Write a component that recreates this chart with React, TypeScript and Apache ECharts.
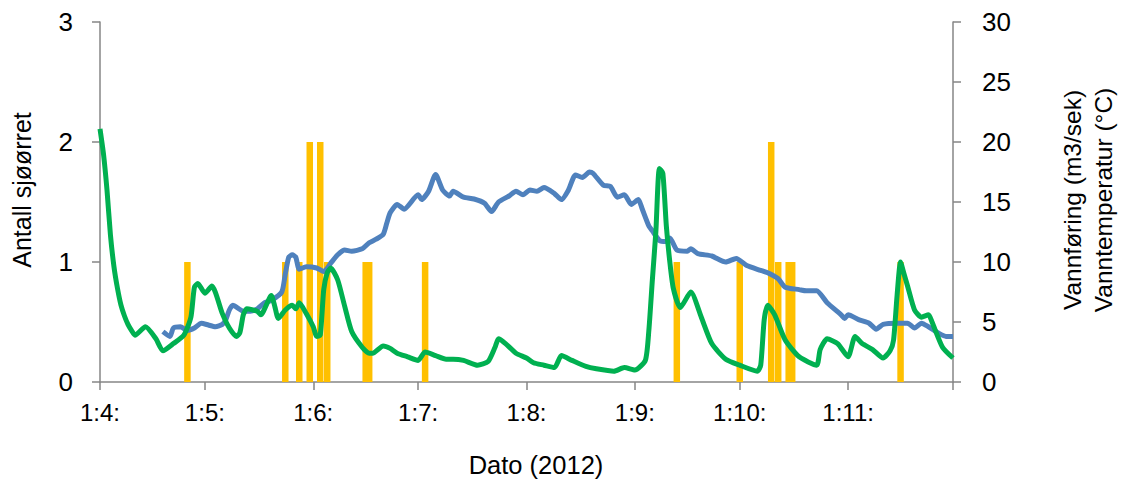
import React, { useEffect, useRef } from 'react';
import * as echarts from 'echarts';

// Daily categories from 1 April 2012 to 1 December 2012 (label format "d:m:")
const DAY_COUNT = 245;
const dayLabels: string[] = Array.from({ length: DAY_COUNT }, (_, i) => {
  const d = new Date(2012, 3, 1 + i);
  return `${d.getDate()}:${d.getMonth() + 1}:`;
});

// Antall sjøørret (left axis) — [day index, count]
const fishCounts: [number, number][] = [
  [25, 1], [53, 1], [57, 1], [60, 2], [63, 2], [65, 1], [76, 1], [77, 1],
  [93, 1], [165, 1], [183, 1], [192, 2], [194, 1], [197, 1], [198, 1], [229, 1],
];

// Vannføring (m3/sek) (right axis) — [day index, value]
const flow: [number, number][] = [
  [0, 21.1], [1, 19.0], [2, 16.0], [3, 12.2], [4, 9.6], [5, 7.8], [6, 6.4], [7, 5.5],
  [8, 4.8], [9, 4.3], [10, 3.9], [13, 4.6], [16, 3.6],
  [18, 2.6], [21, 3.2], [24, 3.9], [26, 5.4], [27, 7.9], [28, 8.2], [30, 7.4], [32, 8.0],
  [35, 5.7], [37, 4.5], [39, 3.8], [40, 4.1], [41, 5.6], [42, 6.1], [45, 5.9], [46, 5.6],
  [49, 7.2], [50, 6.3], [51, 5.3], [53, 6.0], [55, 6.4], [56, 6.1], [57, 6.6], [59, 5.7],
  [61, 4.6], [62, 3.8], [63, 3.9], [64, 7.7], [65, 9.1], [66, 9.5], [68, 8.5], [70, 6.3],
  [72, 4.2], [75, 2.9], [77, 2.4], [78, 2.4], [81, 3.0], [83, 2.8], [85, 2.4], [88, 2.1],
  [91, 1.8], [93, 2.5], [96, 2.2], [99, 1.9], [101, 1.9], [104, 1.8], [108, 1.4], [111, 1.7],
  [113, 2.9], [114, 3.6], [116, 3.2], [119, 2.4], [122, 2.0], [124, 1.6], [127, 1.4], [130, 1.2],
  [132, 2.2], [135, 1.8], [139, 1.3], [142, 1.1], [147, 0.9], [150, 1.2], [153, 1.0], [156, 1.8],
  [157, 4.3], [158, 8.5], [159, 12.5], [160, 17.8], [161, 17.4], [162, 13.0], [163, 10.0], [164, 7.8],
  [166, 6.2], [169, 7.5], [172, 5.4], [175, 3.2], [179, 1.9], [183, 1.4], [188, 0.9], [189, 1.4],
  [190, 5.2], [191, 6.4], [193, 5.6], [196, 3.5], [200, 2.1], [205, 1.4], [206, 2.7], [208, 3.6],
  [211, 3.2], [214, 2.1], [216, 3.8], [218, 3.2], [221, 2.7], [224, 2.0], [226, 2.6], [227, 3.5],
  [228, 7.2], [229, 10.0], [230, 9.0], [231, 8.0], [233, 6.0], [235, 5.4], [237, 5.6], [238, 5.0],
  [241, 2.9], [244, 2.0],
];

// Vanntemperatur (°C) (right axis) — [day index, value]
const temperature: [number, number][] = [
  [18, 4.2], [20, 3.8], [21, 4.5], [23, 4.6], [25, 4.3], [27, 4.5], [29, 4.9], [31, 4.75],
  [33, 4.6], [35, 4.8], [36, 5.2], [37, 6.0], [38, 6.4], [41, 5.9], [43, 5.9], [45, 6.1],
  [47, 6.6], [49, 6.8], [52, 7.5], [53, 9.0], [54, 10.4], [55, 10.6], [56, 10.4], [57, 9.4],
  [59, 9.6], [62, 9.5], [64, 9.2], [66, 9.9], [68, 10.6], [70, 11.0], [72, 10.9], [75, 11.1],
  [77, 11.6], [79, 11.9], [81, 12.3], [82, 13.2], [83, 14.1], [85, 14.8], [87, 14.4], [91, 15.6],
  [92, 15.2], [94, 15.9], [96, 17.3], [98, 16.0], [100, 15.5], [101, 15.9], [104, 15.4], [107, 15.25],
  [110, 14.9], [112, 14.2], [114, 15.0], [117, 15.5], [119, 15.9], [121, 15.6], [123, 16.0], [125, 15.9],
  [127, 16.2], [130, 15.7], [132, 15.2], [134, 16.0], [136, 17.25], [138, 17.05], [140, 17.5], [141, 17.4],
  [144, 16.4], [146, 16.3], [148, 15.4], [150, 15.6], [152, 14.8], [154, 15.2], [155, 14.5], [157, 13.0],
  [158, 12.6], [160, 11.8], [162, 11.7], [163, 12.0], [165, 11.0], [168, 10.9], [169, 11.1], [171, 10.7],
  [175, 10.5], [179, 10.0], [182, 10.3], [185, 9.7], [189, 9.3], [191, 9.1], [194, 8.6], [196, 7.9],
  [200, 7.7], [202, 7.6], [205, 7.6], [208, 6.6], [212, 5.6], [213, 5.3], [214, 5.6], [217, 5.2],
  [220, 4.9], [222, 4.4], [224, 4.8], [228, 4.9], [231, 4.9], [233, 4.5], [235, 4.9], [237, 4.6],
  [240, 4.05], [242, 3.8], [244, 3.8],
];

const leftTicks = { min: 0, max: 3, interval: 1 };
const rightTicks = { min: 0, max: 30, interval: 5 };

const FONT = '"Liberation Sans", Arial, sans-serif';
const AXIS_COLOR = '#868686';

export default function App() {
  const ref = useRef<HTMLDivElement>(null);

  useEffect(() => {
    document.body.style.margin = '0';
    if (!ref.current) return;
    const chart = echarts.init(ref.current, undefined, { renderer: 'svg' });

    const isMonthStart = (_i: number, v: string) => v.startsWith('1:');

    chart.setOption({
      animation: false,
      textStyle: { fontFamily: FONT },
      grid: { left: 100, right: 168, top: 22, bottom: 97 },
      xAxis: {
        type: 'category',
        data: dayLabels,
        boundaryGap: false,
        axisLine: { lineStyle: { color: AXIS_COLOR, width: 1.5 } },
        axisTick: { interval: isMonthStart, length: 8, lineStyle: { color: AXIS_COLOR, width: 1.5 } },
        axisLabel: {
          interval: (i: number, v: string) => i < DAY_COUNT - 1 && v.startsWith('1:'),
          color: '#000',
          fontSize: 24,
          fontFamily: FONT,
          margin: 18,
        },
        splitLine: { show: false },
      },
      yAxis: [
        {
          type: 'value',
          position: 'left',
          ...leftTicks,
          axisLine: { show: true, lineStyle: { color: AXIS_COLOR, width: 1.5 } },
          axisTick: { show: true, length: 8, lineStyle: { color: AXIS_COLOR, width: 1.5 } },
          axisLabel: { color: '#000', fontSize: 26, fontFamily: FONT, margin: 27 },
          splitLine: { show: false },
        },
        {
          type: 'value',
          position: 'right',
          ...rightTicks,
          axisLine: { show: true, lineStyle: { color: AXIS_COLOR, width: 1.5 } },
          axisTick: { show: true, length: 8, lineStyle: { color: AXIS_COLOR, width: 1.5 } },
          axisLabel: { color: '#000', fontSize: 26, fontFamily: FONT, margin: 29 },
          splitLine: { show: false },
        },
      ],
      graphic: [
        {
          type: 'text', x: 22, y: 190, rotation: Math.PI / 2,
          style: { text: 'Antall sjøørret', fontSize: 25, fontFamily: FONT, fill: '#000', align: 'center', verticalAlign: 'middle' },
        },
        {
          type: 'text', x: 1072, y: 200, rotation: Math.PI / 2,
          style: { text: 'Vannføring (m3/sek)', fontSize: 24.5, fontFamily: FONT, fill: '#000', align: 'center', verticalAlign: 'middle' },
        },
        {
          type: 'text', x: 1103, y: 200, rotation: Math.PI / 2,
          style: { text: 'Vanntemperatur (°C)', fontSize: 24.5, fontFamily: FONT, fill: '#000', align: 'center', verticalAlign: 'middle' },
        },
        {
          type: 'text', x: 536, y: 465,
          style: { text: 'Dato (2012)', fontSize: 25.5, fontFamily: FONT, fill: '#000', align: 'center', verticalAlign: 'middle' },
        },
      ],
      series: [
        {
          name: 'Antall sjøørret',
          type: 'bar',
          yAxisIndex: 0,
          data: fishCounts,
          barWidth: 6.5,
          itemStyle: { color: '#FFC000' },
        },
        {
          name: 'Vanntemperatur',
          type: 'line',
          yAxisIndex: 1,
          data: temperature,
          showSymbol: false,
          symbol: 'none',
          smooth: 0.2,
          lineStyle: { color: '#4F81BD', width: 5 },
        },
        {
          name: 'Vannføring',
          type: 'line',
          yAxisIndex: 1,
          data: flow,
          showSymbol: false,
          symbol: 'none',
          smooth: 0.2,
          lineStyle: { color: '#00B050', width: 5 },
        },
      ],
    });

    return () => chart.dispose();
  }, []);

  return <div ref={ref} style={{ width: 1121, height: 479 }} />;
}
